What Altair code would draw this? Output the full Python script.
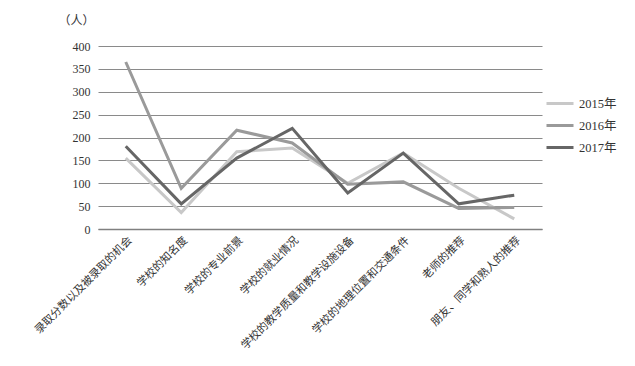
import altair as alt
import pandas as pd

categories = ["录取分数以及被录取的机会", "学校的知名度", "学校的专业前景", "学校的就业情况",
              "学校的教学质量和教学设施设备", "学校的地理位置和交通条件", "老师的推荐", "朋友、同学和熟人的推荐"]
series = ["2015年", "2016年", "2017年"]
v2015 = [155, 36, 169, 177, 100, 166, 89, 22]
v2016 = [365, 89, 216, 188, 98, 103, 45, 47]
v2017 = [181, 55, 155, 220, 79, 166, 55, 74]
colors = ["#c8c8c8", "#9a9a9a", "#666666"]

rows = []
for s, vals in zip(series, [v2015, v2016, v2017]):
    for c, v in zip(categories, vals):
        rows.append({"cat": c, "year": s, "value": v})
df = pd.DataFrame(rows)

font = "Liberation Serif, Noto Sans CJK SC"

chart = alt.Chart(df).mark_line(strokeWidth=3).encode(
    x=alt.X("cat:N", sort=categories, title=None,
            scale=alt.Scale(paddingInner=0, paddingOuter=0.5),
            axis=alt.Axis(labelAngle=-45, labelFontSize=11, labelFont=font, labelColor="#333333",
                          domainColor="#808080", domainWidth=1.5, ticks=False, grid=False,
                          labelPadding=5, labelLimit=300)),
    y=alt.Y("value:Q", title="（人）",
            scale=alt.Scale(domain=[0, 400]),
            axis=alt.Axis(values=list(range(0, 401, 50)), domain=False, ticks=False,
                          labelFontSize=12, labelFont=font, labelColor="#333333", labelPadding=8,
                          gridColor="#8a8a8a", gridWidth=1.2,
                          titleAngle=0, titleX=-22, titleY=-26, titleAlign="center",
                          titleBaseline="middle", titleFont=font, titleFontSize=12,
                          titleFontWeight="normal", titleColor="#333333")),
    color=alt.Color("year:N", sort=series, scale=alt.Scale(domain=series, range=colors),
                    legend=alt.Legend(title=None, orient="none", legendX=447, legendY=50,
                                      symbolType="stroke", symbolSize=729, symbolStrokeWidth=3,
                                      labelFont=font, labelFontSize=12.5, labelColor="#333333",
                                      clipHeight=15, rowPadding=7, labelOffset=4)),
).properties(
    width=444, height=183,
    autosize=alt.AutoSizeParams(type="none"),
    padding={"left": 90, "top": 38, "right": 85, "bottom": 130},
).configure_view(stroke=None)

chart.save("out.html", embed_options={"renderer": "svg", "actions": False})
